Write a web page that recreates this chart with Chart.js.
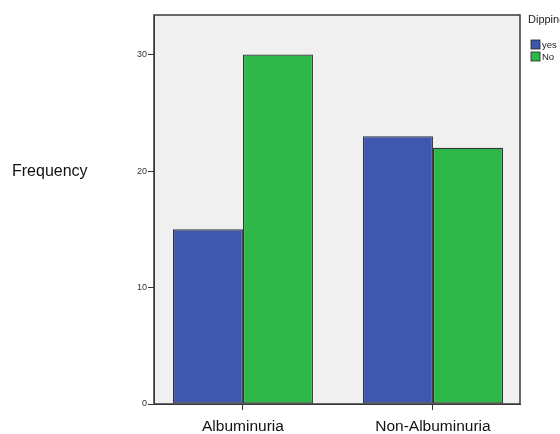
<!DOCTYPE html>
<html>
<head>
<meta charset="utf-8">
<script src="https://cdn.jsdelivr.net/npm/chart.js@4/dist/chart.umd.min.js"></script>
<style>
html,body{margin:0;padding:0;background:#fff;}
#wrap{width:560px;height:434px;position:relative;}
</style>
</head>
<body>
<div id="wrap"><canvas id="c" width="560" height="434"></canvas></div>
<script>
const categories = ["Albuminuria", "Non-Albuminuria"];
const yesValues = [15, 23];
const noValues = [30, 22];
const seriesNames = ["yes", "No"];
const legendTitle = "Dipping";
const yAxisTitle = "Frequency";
const yTicks = [0, 10, 20, 30];

const colors = ["#3f57ad", "#2fb84a"];
const FONT = '"Liberation Sans", Arial, sans-serif';

const bgPlugin = {
  id: 'bg',
  beforeDraw(chart) {
    const {ctx, chartArea: a} = chart;
    ctx.save();
    ctx.fillStyle = '#f0f0f0';
    ctx.fillRect(a.left, a.top, a.right - a.left, a.bottom - a.top);
    ctx.restore();
  },
  afterDraw(chart) {
    const {ctx, chartArea: a} = chart;
    ctx.save();
    ctx.strokeStyle = '#3a3a3a';
    ctx.lineWidth = 1.5;
    ctx.strokeRect(a.left, a.top, a.right - a.left, a.bottom - a.top);
    ctx.fillStyle = '#111';
    ctx.font = '16px ' + FONT;
    ctx.textBaseline = 'middle';
    ctx.textAlign = 'left';
    ctx.fillText(yAxisTitle, 12, 172);
    ctx.font = '11px ' + FONT;
    ctx.fillStyle = '#222';
    ctx.fillText(legendTitle, 528, 20);
    ctx.font = '9.5px ' + FONT;
    seriesNames.forEach((n, i) => {
      const y = 40 + i * 12;
      ctx.fillStyle = colors[i];
      ctx.fillRect(531, y, 9, 9);
      ctx.strokeStyle = '#222';
      ctx.lineWidth = 0.8;
      ctx.strokeRect(531, y, 9, 9);
      ctx.fillStyle = '#222';
      ctx.fillText(n, 542, y + 5);
    });
    ctx.restore();
  }
};

new Chart(document.getElementById('c'), {
  type: 'bar',
  data: {
    datasets: [
      {label: seriesNames[0], data: yesValues.map((v, i) => ({x: i, y: v})), backgroundColor: colors[0], borderColor: '#333', borderWidth: 1.2, borderSkipped: false},
      {label: seriesNames[1], data: noValues.map((v, i) => ({x: i, y: v})), backgroundColor: colors[1], borderColor: '#333', borderWidth: 1.2, borderSkipped: false}
    ]
  },
  options: {
    responsive: false,
    animation: false,
    layout: {padding: {top: 15, right: 40, left: 0, bottom: 0}},
    datasets: {bar: {categoryPercentage: 0.737, barPercentage: 1.0}},
    plugins: {legend: {display: false}, tooltip: {enabled: false}},
    scales: {
      x: {
        type: 'linear',
        min: -0.468, max: 1.458,
        offset: false,
        afterFit(s) { s.height = 30; },
        afterBuildTicks(s) { s.ticks = categories.map((c, i) => ({value: i})); },
        grid: {display: true, offset: false, drawOnChartArea: false, drawTicks: true, tickLength: 6, color: '#333'},
        border: {display: true, color: '#333'},
        ticks: {color: '#111', font: {size: 15.5, family: FONT}, padding: 7, callback: (v) => categories[v] ?? ''}
      },
      y: {
        min: 0, max: 33.4,
        afterFit(s) { s.width = 154; },
        afterBuildTicks(s) { s.ticks = yTicks.map(v => ({value: v})); },
        grid: {display: true, drawOnChartArea: false, drawTicks: true, tickLength: 6, color: '#333'},
        border: {display: true, color: '#333'},
        ticks: {color: '#333', font: {size: 9, family: FONT}, padding: 1}
      }
    }
  },
  plugins: [bgPlugin]
});
</script>
</body>
</html>
